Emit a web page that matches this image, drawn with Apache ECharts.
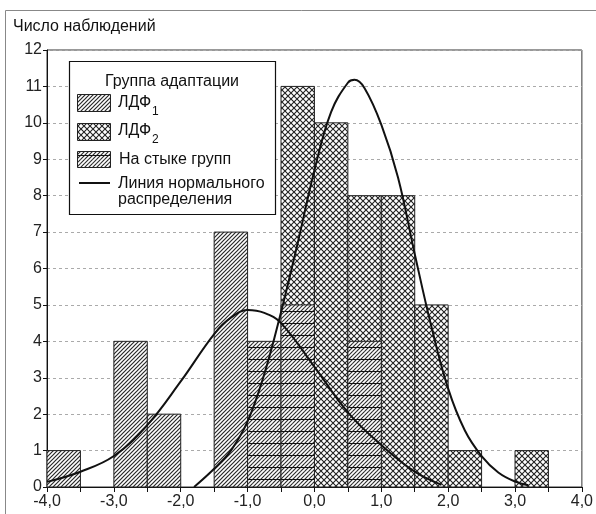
<!DOCTYPE html>
<html>
<head>
<meta charset="utf-8">
<script src="https://cdn.jsdelivr.net/npm/echarts@6/dist/echarts.min.js"></script>
<style>
  html, body { margin: 0; padding: 0; background: #fff; }
  #main { width: 596px; height: 514px; }
</style>
</head>
<body>
<div id="main"></div>
<script>
// histogram bins (left edge of each 0.5-wide bin) and counts
var binWidth = 0.5;
var ldf1Edges = [-4.0, -3.0, -2.5, -1.5];
var ldf1Counts = [1, 4, 2, 7];
var ldf2Edges = [-0.5, 0.0, 0.5, 1.0, 1.5, 2.0, 3.0];
var ldf2Counts = [11, 10, 8, 8, 5, 1, 1];
var jointEdges = [-1.0, -0.5, 0.5];
var jointCounts = [4, 5, 4];

// normal curves
var curve1X = [-4.0, -3.5, -3.0, -2.5, -2.0, -1.5, -1.25, -1.0, -0.75, -0.5, 0.0, 0.5, 1.0, 1.5, 1.9];
var curve1Y = [0.14, 0.42, 0.85, 1.7, 2.9, 4.2, 4.65, 4.86, 4.78, 4.5, 3.3, 2.05, 1.15, 0.42, 0.06];
var curve2X = [-1.8, -1.5, -1.25, -1.0, -0.75, -0.5, -0.25, 0.0, 0.25, 0.5, 0.6, 0.75, 1.0, 1.25, 1.5, 1.75, 2.0, 2.25, 2.5, 2.75, 3.0, 3.2];
var curve2Y = [0.0, 0.5, 1.0, 1.8, 3.1, 4.8, 6.7, 8.7, 10.3, 11.1, 11.18, 10.95, 9.95, 8.5, 6.4, 4.4, 2.7, 1.55, 0.85, 0.4, 0.15, 0.05];

var FONT = '"Liberation Sans", Arial, sans-serif';
var FS = 16;

// pattern tiles
function makeTile(w, h, draw) {
  var c = document.createElement('canvas');
  c.width = w; c.height = h;
  var ctx = c.getContext('2d');
  ctx.fillStyle = '#fff';
  ctx.fillRect(0, 0, w, h);
  draw(ctx);
  return { image: c, repeat: 'repeat' };
}
function hatch(ctx, h) {
  ctx.strokeStyle = '#2a2a2a';
  ctx.lineWidth = 1.2;
  for (var k = -2; k < h / 4 + 2; k++) {
    ctx.beginPath();
    ctx.moveTo(-1, k * 4 + 1);
    ctx.lineTo(5, k * 4 - 5);
    ctx.stroke();
  }
}
var hatchFill = makeTile(4, 4, function (ctx) { hatch(ctx, 4); });
var crossFill = makeTile(6, 6, function (ctx) {
  ctx.strokeStyle = '#222';
  ctx.lineWidth = 1.1;
  ctx.beginPath();
  ctx.moveTo(-1, -1); ctx.lineTo(7, 7);
  ctx.moveTo(-1, 7); ctx.lineTo(7, -1);
  ctx.stroke();
});
var jointFill = makeTile(4, 12, function (ctx) {
  hatch(ctx, 12);
  ctx.fillStyle = '#111';
  ctx.fillRect(0, 11, 4, 1.2);
});

function pairs(xs, ys) {
  return xs.map(function (x, i) { return [x, ys[i]]; });
}

function barSeries(name, edges, counts, fill) {
  return {
    type: 'custom',
    name: name,
    data: edges.map(function (e, i) { return [e, e + binWidth, counts[i]]; }),
    encode: { x: [0, 1], y: 2 },
    z: 3,
    renderItem: function (params, api) {
      var p0 = api.coord([api.value(0), api.value(2)]);
      var p1 = api.coord([api.value(1), 0]);
      return {
        type: 'rect',
        shape: { x: p0[0], y: p0[1], width: p1[0] - p0[0], height: p1[1] - p0[1] },
        style: { fill: fill, stroke: '#222', lineWidth: 1 }
      };
    }
  };
}

function curveSeries(name, xs, ys) {
  return {
    type: 'line',
    name: name,
    data: pairs(xs, ys),
    smooth: 0.4,
    symbol: 'none',
    z: 5,
    lineStyle: { color: '#111', width: 2 }
  };
}

var chart = echarts.init(document.getElementById('main'));

var txt = function (x, y, s, size, align) {
  return {
    type: 'text', x: x, y: y, z: 101,
    style: { text: s, font: (size || FS) + 'px ' + FONT, fill: '#111',
             textAlign: align || 'left', verticalAlign: 'middle' }
  };
};

var option = {
  animation: false,
  backgroundColor: '#fff',
  title: {
    text: 'Число наблюдений',
    left: 8, top: 14,
    textStyle: { fontFamily: FONT, fontSize: FS, fontWeight: 'normal', color: '#111' }
  },
  grid: {
    left: 47, right: 4, top: 50, bottom: 27,
    show: true, borderColor: '#333', borderWidth: 1
  },
  xAxis: {
    type: 'value', min: -4, max: 4, interval: 0.5,
    axisLine: { onZero: false, lineStyle: { color: '#111', width: 1 } },
    axisTick: { show: true, length: 5, lineStyle: { color: '#111' } },
    splitLine: { show: false },
    axisLabel: {
      margin: 7, fontFamily: FONT, fontSize: FS, color: '#222', showMaxLabel: true,
      formatter: function (v) {
        return Math.abs(v - Math.round(v)) < 1e-9 ? v.toFixed(1).replace('.', ',') : '';
      }
    }
  },
  yAxis: {
    type: 'value', min: 0, max: 12, interval: 1,
    axisLine: { show: true, onZero: false, lineStyle: { color: '#111', width: 1 } },
    axisTick: { show: true, length: 4, lineStyle: { color: '#111' } },
    splitLine: { show: true, lineStyle: { color: '#aaa', type: [3, 3], width: 1 } },
    axisLabel: { margin: 5, fontFamily: FONT, fontSize: FS, color: '#222' }
  },
  series: [
    barSeries('ЛДФ1', ldf1Edges, ldf1Counts, hatchFill),
    barSeries('ЛДФ2', ldf2Edges, ldf2Counts, crossFill),
    barSeries('На стыке групп', jointEdges, jointCounts, jointFill),
    curveSeries('Норма ЛДФ1', curve1X, curve1Y),
    curveSeries('Норма ЛДФ2', curve2X, curve2Y)
  ],
  graphic: [
    { type: 'rect', z: 0, shape: { x: 5.5, y: 10.5, width: 620, height: 540 },
      style: { fill: null, stroke: '#888', lineWidth: 1 } },
    { type: 'rect', z: 100, shape: { x: 69.5, y: 61.5, width: 206, height: 153 },
      style: { fill: '#fff', stroke: '#111', lineWidth: 1.2 } },
    txt(172, 82, 'Группа адаптации', FS, 'center'),
    { type: 'rect', z: 101, shape: { x: 77.5, y: 94.5, width: 33, height: 17 },
      style: { fill: hatchFill, stroke: '#222', lineWidth: 1 } },
    txt(118, 103, 'ЛДФ', FS), txt(152, 112, '1', 12),
    { type: 'rect', z: 101, shape: { x: 77.5, y: 123.5, width: 33, height: 17 },
      style: { fill: crossFill, stroke: '#222', lineWidth: 1 } },
    txt(118, 131, 'ЛДФ', FS), txt(152, 140, '2', 12),
    { type: 'rect', z: 101, shape: { x: 77.5, y: 151.5, width: 33, height: 16 },
      style: { fill: jointFill, stroke: '#222', lineWidth: 1 } },
    txt(119, 160, 'На стыке групп', FS),
    { type: 'line', z: 101, shape: { x1: 79, y1: 183, x2: 110, y2: 183 },
      style: { stroke: '#111', lineWidth: 2 } },
    txt(118, 184, 'Линия нормального', FS),
    txt(118, 200, 'распределения', FS)
  ]
};

chart.setOption(option);
</script>
</body>
</html>
